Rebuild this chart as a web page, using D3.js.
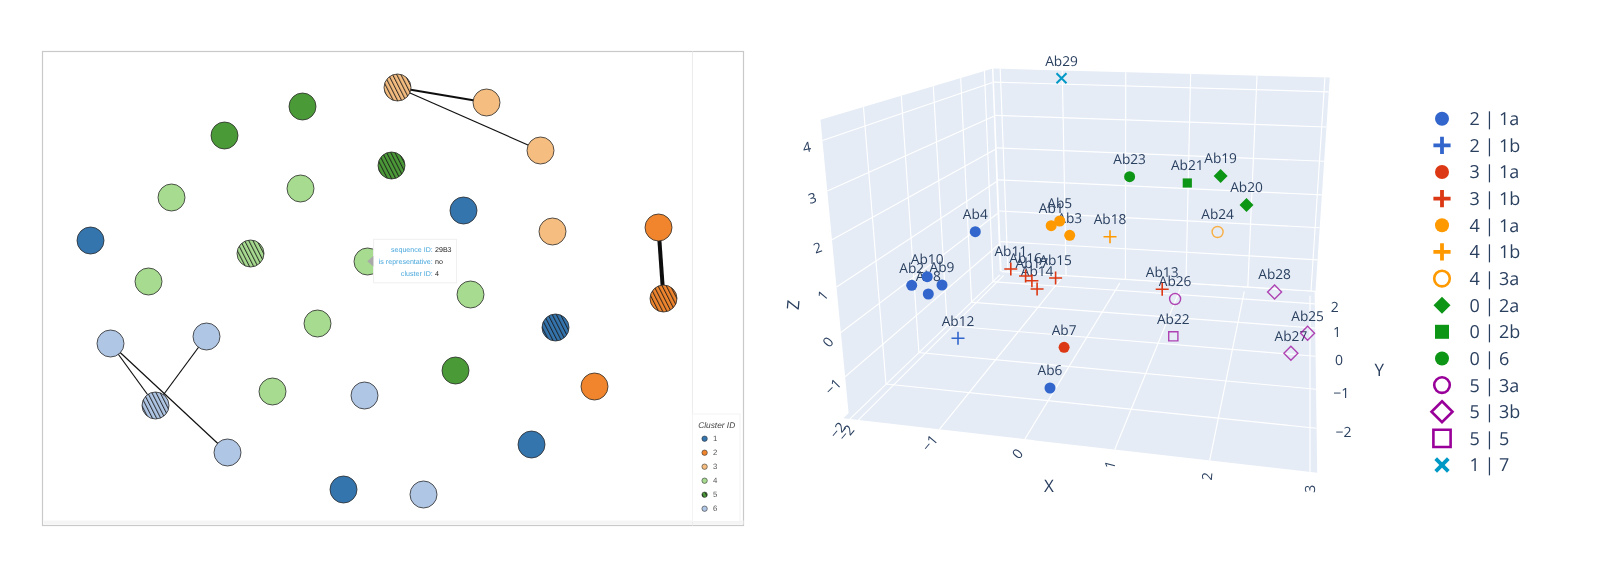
<!DOCTYPE html>
<html><head><meta charset="utf-8">
<style>html,body{margin:0;padding:0;background:#fff;overflow:hidden}svg{display:block;text-rendering:geometricPrecision}</style>
<script src="https://cdn.jsdelivr.net/npm/d3@7"></script></head>
<body><svg id="c" width="1606" height="570"></svg>
<script>
// ---- network panel data (layout units)
const nodeX=[355,444,498,260,182,349,258,129,421,510,616,48,208,325,106,428,621,513,275,68,164,413,552,230,322,113,185,489,301,381];
const nodeY=[36,51,99,55,84,114,137,146,159,180,176,189,202,210,230,243,247,276,272,292,285,319,335,340,344,354,401,393,438,443];
const nodeCluster=[3,3,3,5,5,5,4,4,1,3,2,1,4,4,4,4,2,1,4,6,6,5,2,4,6,6,6,1,1,6];
const nodeRepresentative=[1,0,0,0,0,1,0,0,0,0,0,0,1,0,0,0,1,1,0,0,0,0,0,0,0,1,0,0,0,0];
const edgeSource=[0,0,10,19,19,20];
const edgeTarget=[1,2,16,25,26,25];
const edgeWeight=[2.2,1.2,4,1.2,1.2,1.2];
const clusterIds=[1,2,3,4,5,6];
const clusterColors=['#3474ae','#f0852d','#f5bd80','#a7db90','#4c9a38','#b0c6e5'];
const tooltipKeys=['sequence ID:','is representative:','cluster ID:'];
const tooltipValues=['29B3','no','4'];
// ---- 3D panel data
const seriesNames=['2 | 1a','2 | 1b','3 | 1a','3 | 1b','4 | 1a','4 | 1b','4 | 3a','0 | 2a','0 | 2b','0 | 6','5 | 3a','5 | 3b','5 | 5','1 | 7'];
const seriesColors=['#3366cc','#3366cc','#dc3912','#dc3912','#ff9900','#ff9900','#ff9900','#109618','#109618','#109618','#990099','#990099','#990099','#0099c6'];
const seriesShapes=['circle','cross','circle','cross','circle','cross','circle','diamond','square','circle','circle','diamond','square','x'];
const seriesOpen=[0,0,0,0,0,0,1,0,0,0,1,1,1,0];
const abNames=['Ab1','Ab2','Ab3','Ab4','Ab5','Ab6','Ab7','Ab8','Ab9','Ab10','Ab11','Ab12','Ab13','Ab14','Ab15','Ab16','Ab17','Ab18','Ab19','Ab20','Ab21','Ab22','Ab23','Ab24','Ab25','Ab26','Ab27','Ab28','Ab29'];
const abViewX=[281.2,141.7,299.7,205.3,289.7,280,294.1,158.3,172,157.2,240.8,188,392.2,267.1,285.6,255.6,261.9,340,450.6,476.5,417.3,403.3,359.6,447.6,537.6,405.1,520.9,504.6,291.5];
const abViewY=[185.7,245.3,195.3,191.7,181,348,307.3,254,245,236.7,229,298.3,249.3,249,238,236,240.7,196.7,136,165,143,296.3,136.7,192,293.3,259,313.3,252,38.3];
const abSeries=[4,0,4,0,4,0,2,0,0,0,3,1,3,3,3,3,3,5,7,7,8,12,9,6,11,10,11,11,13];
const xTicks=[-2,-1,0,1,2,3], yTicks=[-2,-1,0,1,2], zTicks=[-2,-1,0,1,2,3,4];
const xExtent=[-2.11,3.07], yExtent=[-2.95,2.35], zExtent=[-2,4.4];
const xTickAngle=[-50,-50,-50,-75,-85,-90];
const zTickAngle=[-50,-45,-50,-50,-20,-15,-10];

const svg=d3.select('#c');
const defs=svg.append('defs');
defs.append('filter').attr('id','soft').attr('x','-5%').attr('y','-5%').attr('width','110%').attr('height','110%')
  .append('feGaussianBlur').attr('stdDeviation',0.5);
const color=d3.scaleOrdinal(clusterIds,clusterColors);
clusterIds.forEach(c=>{
  const p=defs.append('pattern').attr('id','hatch'+c).attr('patternUnits','userSpaceOnUse').attr('width',3.7).attr('height',3.7)
    .attr('patternTransform','rotate(-27)');
  p.append('rect').attr('width',3.7).attr('height',3.7).attr('fill',color(c));
  p.append('line').attr('x1',1.5).attr('x2',1.5).attr('y1',0).attr('y2',3.7).attr('stroke','#1a1a1a').attr('stroke-width',0.9);
});

// ---------- left panel
const left=svg.append('g').attr('filter','url(#soft)');
const nx=d3.scaleLinear([0,701],[42.5,743.5]), ny=d3.scaleLinear([0,474],[51.5,525.5]);
left.append('rect').attr('x',nx(0)).attr('y',ny(0)).attr('width',nx(701)-nx(0)).attr('height',ny(474)-ny(0)).attr('fill','#fff').attr('stroke','#c9c9c9').attr('stroke-width',1.2);
left.append('rect').attr('x',nx(0)+1).attr('y',ny(474)-5).attr('width',700).attr('height',4).attr('fill','#f5f5f5');
left.append('line').attr('x1',nx(650)).attr('x2',nx(650)).attr('y1',ny(0)).attr('y2',ny(474)).attr('stroke','#ececec');
left.append('g').selectAll('line').data(edgeSource).join('line')
  .attr('x1',d=>nx(nodeX[d])).attr('y1',d=>ny(nodeY[d]))
  .attr('x2',(d,i)=>nx(nodeX[edgeTarget[i]])).attr('y2',(d,i)=>ny(nodeY[edgeTarget[i]]))
  .attr('stroke','#111').attr('stroke-width',(d,i)=>edgeWeight[i]);
left.append('g').selectAll('circle').data(nodeX).join('circle')
  .attr('cx',d=>nx(d)).attr('cy',(d,i)=>ny(nodeY[i])).attr('r',13.5)
  .attr('fill',(d,i)=>nodeRepresentative[i]?`url(#hatch${nodeCluster[i]})`:color(nodeCluster[i]))
  .attr('stroke','#2a2a2a').attr('stroke-width',0.8);
// tooltip
const tip=left.append('g').attr('font-family','"Liberation Sans",Arial,sans-serif').attr('font-size',7.1);
tip.append('rect').attr('x',373.6).attr('y',239.3).attr('width',83).attr('height',43.5).attr('fill','#fff').attr('stroke','#efefef');
tip.append('path').attr('d',d3.line()([[367.3,261.3],[373.3,256],[373.3,266.5]])+'Z').attr('fill','#a9a9a9');
tooltipKeys.forEach((k,i)=>{
  const y=250+i*11.7;
  tip.append('text').attr('x',432.8).attr('y',y).attr('dy','0.35em').attr('text-anchor','end').attr('fill','#4aa8dc').text(k);
  tip.append('text').attr('x',435).attr('y',y).attr('dy','0.35em').attr('fill','#222').text(tooltipValues[i]);
});
// legend
const lg=left.append('g').attr('font-family','"Liberation Sans",Arial,sans-serif');
lg.append('rect').attr('x',692.5).attr('y',414).attr('width',47.5).attr('height',107.5).attr('fill','#fff').attr('stroke','#f3f3f3');
lg.append('text').attr('x',716.7).attr('y',425).attr('dy','0.35em').attr('text-anchor','middle').attr('font-size',8.3).attr('font-style','italic').attr('fill','#444').text('Cluster ID');
const ly=d3.scalePoint(clusterIds,[438.7,508.7]);
lg.selectAll('circle').data(clusterIds).join('circle').attr('cx',704.6).attr('cy',d=>ly(d)).attr('r',2.7)
  .attr('fill',d=>d===5?'url(#hatch5)':color(d)).attr('stroke','#333').attr('stroke-width',0.6);
lg.selectAll('text.e').data(clusterIds).join('text').attr('class','e').attr('x',713).attr('y',d=>ly(d)).attr('dy','0.35em').attr('font-size',7.8).attr('fill','#555').text(d=>d);

// ---------- right panel
const right=svg.append('g').attr('filter','url(#soft)');
function quadMap(p0,p1,p2,p3){
  const dx1=p1[0]-p2[0],dx2=p3[0]-p2[0],sx=p0[0]-p1[0]+p2[0]-p3[0];
  const dy1=p1[1]-p2[1],dy2=p3[1]-p2[1],sy=p0[1]-p1[1]+p2[1]-p3[1];
  const den=dx1*dy2-dx2*dy1;
  const g=(sx*dy2-dx2*sy)/den,h=(dx1*sy-sx*dy1)/den;
  const a=p1[0]-p0[0]+g*p1[0],b=p3[0]-p0[0]+h*p3[0],c=p0[0];
  const d=p1[1]-p0[1]+g*p1[1],e=p3[1]-p0[1]+h*p3[1],f=p0[1];
  return (u,v)=>{const w=g*u+h*v+1;return [(a*u+b*v+c)/w,(d*u+e*v+f)/w];};
}
const xU=d3.scaleLinear([-2,3],[0,1]), yU=d3.scaleLinear([-2,2],[0,1]), zU=d3.scaleLinear([-2,4],[0,1]);
const backQ=quadMap([1008,272],[1311,291],[1324,91.7],[1000.7,82.3]);
const leftQ=quadMap([886,384.3],[993,281.5],[985,85],[865,126]);
const floorQ=quadMap([893.7,384.8],[1310,427.6],[1310,303.5],[997,282]);
const back=(x,z)=>backQ(xU(x),zU(z)), wall=(y,z)=>leftQ(yU(y),zU(z)), floor=(x,y)=>floorQ(xU(x),yU(y));
const poly=pts=>d3.line()(pts)+'Z';
const grid=right.append('g');
function face(f,ue,ve,uT,vT,fillU,fillV){
  const fu=fillU||ue, fv=fillV||ve;
  grid.append('path').attr('d',poly([f(fu[0],fv[0]),f(fu[1],fv[0]),f(fu[1],fv[1]),f(fu[0],fv[1])])).attr('fill','#e5ecf6');
  const g=grid.append('g').attr('stroke','#fff').attr('stroke-width',1.15).attr('fill','none');
  g.selectAll('path.u').data(uT).join('path').attr('class','u').attr('d',t=>d3.line()([f(t,ve[0]),f(t,ve[1])]));
  g.selectAll('path.v').data(vT).join('path').attr('class','v').attr('d',t=>d3.line()([f(ue[0],t),f(ue[1],t)]));
}
// floor first with a slightly wider fill so the walls close the seams
face(floor,xExtent,yExtent,xTicks,yTicks,[xExtent[0]-0.08,xExtent[1]],[yExtent[0],yExtent[1]+0.2]);
face(wall,yExtent,zExtent,yTicks,zTicks);
face(back,xExtent,zExtent,xTicks,zTicks);

const tf='"Open Sans",Verdana,sans-serif';
const ax=right.append('g').attr('font-family',tf).attr('fill','#2a3f5f').attr('font-size',14);
const fmt=t=>(t<0?'\u2212':'')+Math.abs(t);
function tickText(p,a,t){ax.append('text').attr('transform',`translate(${p[0]},${p[1]}) rotate(${a})`).attr('text-anchor','middle').attr('dy','0.35em').text(fmt(t));}
xTicks.forEach((t,i)=>{const p=floor(t,yExtent[0]);tickText([p[0]-12+2.4*(t+2),p[1]+13+0.75*(t+2)],xTickAngle[i],t);});
zTicks.forEach((t,i)=>{const p=wall(yExtent[0],t);tickText([p[0]-11.5-0.7*(t+2),p[1]+10.7-0.67*(t+2)],zTickAngle[i],t);});
yTicks.forEach(t=>{const p=floor(xExtent[1],t);tickText([p[0]+20+1.75*(2-t),p[1]+3.5],0,t);});
const title=(s,x,y,a)=>ax.append('text').attr('transform',`translate(${x},${y}) rotate(${a})`).attr('text-anchor','middle').attr('dy','0.35em').attr('font-size',17).text(s);
title('X',1049,486,0);title('Y',1379.3,370,0);title('Z',793.3,305,-85);

function markerPath(shape,s){
  if(shape==='circle')return d3.symbol(d3.symbolCircle,Math.PI*s*s)();
  if(shape==='cross')return `M${-s},0H${s}M0,${-s}V${s}`;
  if(shape==='x')return `M${-s},${-s}L${s},${s}M${-s},${s}L${s},${-s}`;
  if(shape==='diamond')return `M0,${-s}L${s},0L0,${s}L${-s},0Z`;
  return `M${-s},${-s}H${s}V${s}H${-s}Z`;
}
const vx=d3.scaleLinear([0,580],[770,1350]), vy=d3.scaleLinear([0,480],[40,520]);
const sceneSize={circle:5.5,cross:6.5,x:5,diamond:7,square:4.6};
const legendSize={circle:7,cross:8.6,x:6.3,diamond:8.5,square:7};
const legendOpen={circle:7.8,diamond:10.5,square:8.6};
right.append('g').attr('font-family',tf).attr('font-size',13.7).attr('fill','#2a3f5f').attr('text-anchor','middle')
  .selectAll('text').data(abNames).join('text').attr('x',(d,i)=>vx(abViewX[i])).attr('y',(d,i)=>vy(abViewY[i])-17.5).attr('dy','0.35em').text(d=>d);
const isLine=d=>seriesOpen[d]||['cross','x'].includes(seriesShapes[d]);
function styleMarker(sel,op,openW,crossW,xW){
  sel.attr('fill',d=>isLine(d)?'none':seriesColors[d])
   .attr('stroke',d=>isLine(d)?seriesColors[d]:'none')
   .attr('stroke-width',d=>seriesShapes[d]==='x'?xW:seriesShapes[d]==='cross'?crossW:openW)
   .attr('opacity',d=>seriesOpen[d]?op:1);
}
right.append('g').selectAll('path').data(abSeries).join('path')
  .attr('transform',(d,i)=>`translate(${vx(abViewX[i])},${vy(abViewY[i])})`)
  .attr('d',d=>markerPath(seriesShapes[d],sceneSize[seriesShapes[d]]))
  .call(styleMarker,0.72,1.4,1.6,2);
// legend
const legY=d3.scalePoint(seriesNames,[118.7,465]);
const leg=right.append('g');
leg.selectAll('path').data(seriesNames.map((d,i)=>i)).join('path')
  .attr('transform',d=>`translate(1442,${legY(seriesNames[d])})`)
  .attr('d',d=>markerPath(seriesShapes[d],seriesOpen[d]?legendOpen[seriesShapes[d]]:legendSize[seriesShapes[d]]))
  .call(styleMarker,1,2.6,3.8,3.8);
leg.selectAll('text').data(seriesNames).join('text').attr('x',1469.5).attr('y',d=>legY(d)).attr('dy','0.36em')
  .attr('font-family',tf).attr('font-size',18).attr('fill','#2a3f5f').text(d=>d);
</script></body></html>
